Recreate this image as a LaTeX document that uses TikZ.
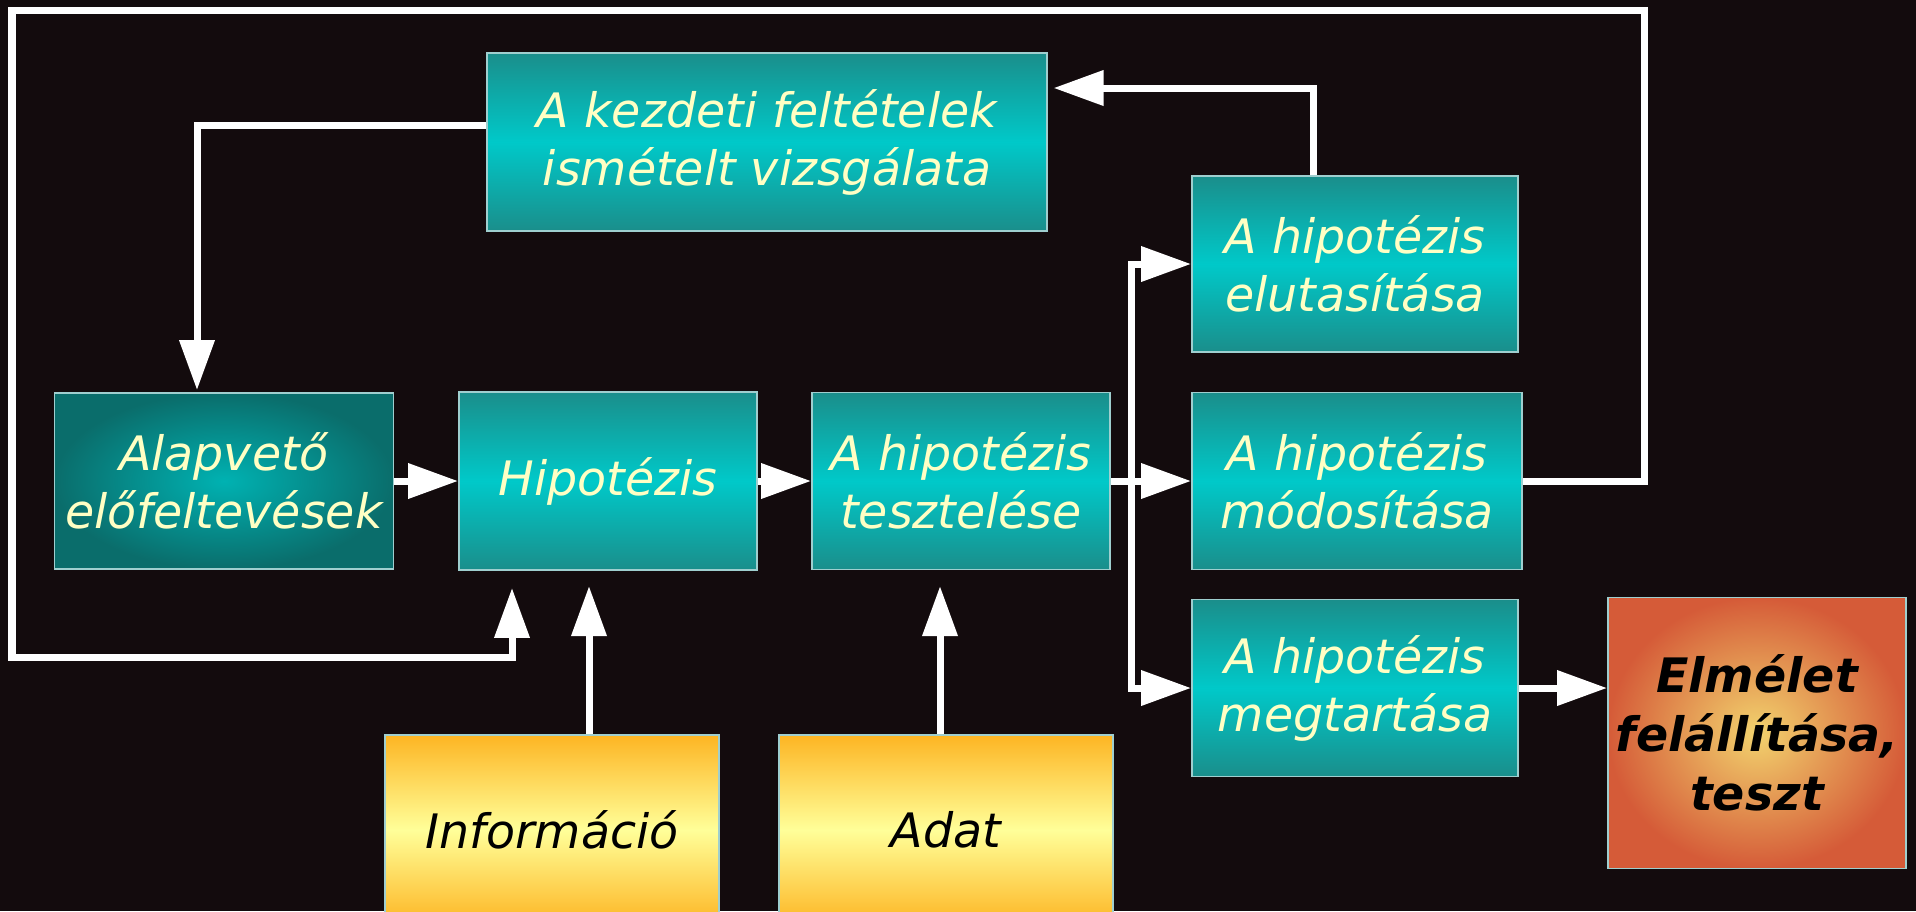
\documentclass[tikz,border=0pt]{standalone}
\usepackage{fontspec}
\setmainfont{DejaVu Sans}
\usepackage{tikz}
\usetikzlibrary{arrows.meta,%
                calc}

\definecolor{bgcol}{HTML}{130B0D}
\definecolor{tealedge}{HTML}{1A8E8B}
\definecolor{tealmid}{HTML}{00C9C9}
\definecolor{alapin}{HTML}{00B2B2}
\definecolor{alapout}{HTML}{0A6D6B}
\definecolor{sargatop}{HTML}{FDB523}
\definecolor{sargamid}{HTML}{FFFF99}
\definecolor{elmin}{HTML}{F2D36E}
\definecolor{elmout}{HTML}{D55B38}
\definecolor{boxline}{HTML}{9FCFCF}
\definecolor{textcol}{HTML}{FFFFC4}

\begin{document}
\begin{tikzpicture}[x=0.01cm,y=-0.01cm]
		\tikzstyle{BoxStyle}=[draw=boxline,line width=0.5pt,inner sep=0pt,align=center,
			font=\fontsize{13.5}{16.5}\selectfont\itshape]
		\tikzstyle{TealStyle}=[BoxStyle,text=textcol,top color=tealedge,bottom color=tealedge,middle color=tealmid]
		\tikzstyle{AlapStyle}=[BoxStyle,text=textcol,inner color=alapin,outer color=alapout]
		\tikzstyle{SargaStyle}=[BoxStyle,text=black,top color=sargatop,bottom color=sargatop,middle color=sargamid]
		\tikzstyle{ElmeletStyle}=[BoxStyle,text=black,inner color=elmin,outer color=elmout,
			font=\fontsize{13.5}{16.7}\selectfont\bfseries\itshape]
		\tikzstyle{ArrowStyle}=[draw=white,line width=0.07cm,-{Triangle[length=0.5cm,width=0.34cm]}]

		% background
		\fill[bgcol] (0,0) rectangle (1916,911);
		\useasboundingbox (0,0) rectangle (1916,911);
		\clip (0,0) rectangle (1916,911);

		% boxes
		\node[TealStyle,minimum width=5.59cm,minimum height=1.78cm] (kezdeti) at (767,142) {A kezdeti feltételek\\ismételt vizsgálata};
		\node[AlapStyle,minimum width=3.39cm,minimum height=1.76cm] (alap) at (224,481) {Alapvető\\előfeltevések};
		\node[TealStyle,minimum width=2.98cm,minimum height=1.78cm] (hipo) at (608,481) {Hipotézis};
		\node[TealStyle,minimum width=2.98cm,minimum height=1.77cm] (teszt) at (961,481) {A hipotézis\\tesztelése};
		\node[TealStyle,minimum width=3.26cm,minimum height=1.76cm] (eluta) at (1355,264) {A hipotézis\\elutasítása};
		\node[TealStyle,minimum width=3.30cm,minimum height=1.77cm] (modos) at (1357,481) {A hipotézis\\módosítása};
		\node[TealStyle,minimum width=3.26cm,minimum height=1.77cm] (megta) at (1355,688) {A hipotézis\\megtartása};
		\node[ElmeletStyle,minimum width=2.98cm,minimum height=2.71cm] (elmel) at (1757,733) {Elmélet\\felállítása,\\teszt};
		\node[SargaStyle,minimum width=3.34cm,minimum height=1.90cm] (info) at (552,830) {Információ};
		\node[SargaStyle,minimum width=3.34cm,minimum height=1.90cm] (adat) at (946,830) {Adat};

		% main row
		\draw[ArrowStyle] (alap.east) -- (alap.east -| hipo.west);
		\draw[ArrowStyle] (hipo.east) -- (hipo.east -| teszt.west);
		\draw[ArrowStyle] (teszt.east) -- (modos.west);
		\coordinate (split) at (1131,481);
		\draw[ArrowStyle,{Triangle[length=0.5cm,width=0.34cm]}-{Triangle[length=0.5cm,width=0.34cm]}]
			(eluta.west) -- (split |- eluta.west) -- (split |- megta.west) -- (megta.west);
		\draw[ArrowStyle] (megta.east) -- (megta.east -| elmel.west);

		% feedback loops
		\draw[ArrowStyle] ($(eluta.north)+(-42,0)$) |- ($(kezdeti.east)+(6,-54)$);
		\draw[ArrowStyle] ($(kezdeti.west)+(0,-17)$) -| ($(alap.north)+(-27,-2)$);
		\draw[ArrowStyle] (modos.east) -- ++(121,0) |- (12,10) |- ($(hipo.south)+(-96,87)$) -- ($(hipo.south)+(-96,17)$);

		% inputs
		\draw[ArrowStyle] ($(info.north)+(37,0)$) -- ($(info.north)+(37,-148)$);
		\draw[ArrowStyle] ($(adat.north)+(-6,0)$) -- ($(adat.north)+(-6,-148)$);
	\end{tikzpicture}
\end{document}
